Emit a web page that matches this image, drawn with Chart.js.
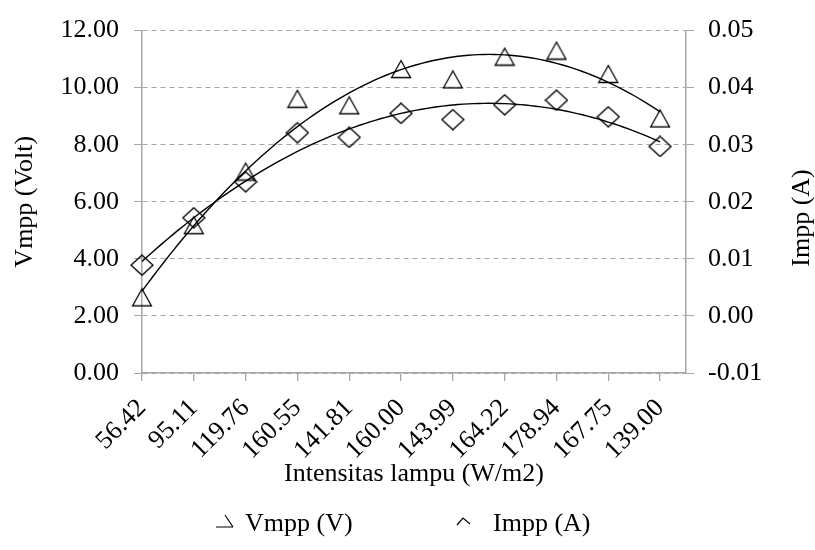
<!DOCTYPE html>
<html>
<head>
<meta charset="utf-8">
<script src="https://cdn.jsdelivr.net/npm/chart.js@4"></script>
<style>
html, body { margin: 0; padding: 0; background: #fff; }
</style>
</head>
<body>
<canvas id="chart" width="815" height="550"></canvas>
<script>
const categories = ["56.42", "95.11", "119.76", "160.55", "141.81", "160.00", "143.99", "164.22", "178.94", "167.75", "139.00"];
const vmpp = [2.65, 5.18, 7.06, 9.61, 9.38, 10.65, 10.29, 11.09, 11.30, 10.48, 8.92];
const impp = [0.0089, 0.0172, 0.0235, 0.0321, 0.0313, 0.0355, 0.0344, 0.0370, 0.0378, 0.0349, 0.0297];
const vTicks = { min: 0, max: 12, step: 2 };
const iTicks = { min: -0.01, max: 0.05, step: 0.01 };

const grey = "#a6a6a6";
const fontFamily = "'Liberation Serif', 'Times New Roman', serif";
Chart.defaults.font.family = fontFamily;
Chart.defaults.font.size = 26;
Chart.defaults.color = "#000";

// second order least squares trendline, like the spreadsheet one
function quadFit(ys) {
    const s = [0, 0, 0, 0, 0];
    const t = [0, 0, 0];
    ys.forEach((y, x) => {
        for (let k = 0; k < 5; k++) s[k] += Math.pow(x, k);
        for (let k = 0; k < 3; k++) t[k] += y * Math.pow(x, k);
    });
    const det = (m) =>
        m[0][0] * (m[1][1] * m[2][2] - m[1][2] * m[2][1]) -
        m[0][1] * (m[1][0] * m[2][2] - m[1][2] * m[2][0]) +
        m[0][2] * (m[1][0] * m[2][1] - m[1][1] * m[2][0]);
    const A = [[s[0], s[1], s[2]], [s[1], s[2], s[3]], [s[2], s[3], s[4]]];
    const D = det(A);
    const coef = [0, 1, 2].map((c) => det(A.map((row, r) => row.map((v, j) => (j === c ? t[r] : v)))) / D);
    const pts = [];
    for (let x = 0; x <= ys.length - 1 + 1e-9; x += 0.1) {
        pts.push({ x, y: coef[0] + coef[1] * x + coef[2] * x * x });
    }
    return pts;
}

function markerCanvas(w, h, draw) {
    const c = document.createElement("canvas");
    c.width = w;
    c.height = h;
    const g = c.getContext("2d");
    g.strokeStyle = "#000";
    g.lineWidth = 1.3;
    draw(g, w, h);
    return c;
}

const triangle = markerCanvas(22, 20, (g, w, h) => {
    g.beginPath();
    g.moveTo(w / 2, 1.5);
    g.lineTo(w - 1.5, h - 1.5);
    g.lineTo(1.5, h - 1.5);
    g.closePath();
    g.stroke();
});
const diamond = markerCanvas(24, 22, (g, w, h) => {
    g.beginPath();
    g.moveTo(w / 2, 1);
    g.lineTo(w - 1, h / 2);
    g.lineTo(w / 2, h - 1);
    g.lineTo(1, h / 2);
    g.closePath();
    g.stroke();
});

// legend at the bottom and the right axis title (reads bottom to top)
const extrasPlugin = {
    id: "extras",
    afterDraw(chart) {
        const ctx = chart.ctx;
        const y = 524;
        ctx.save();
        ctx.strokeStyle = "#000";
        ctx.lineWidth = 1.2;
        ctx.beginPath();
        ctx.moveTo(216, 527);
        ctx.lineTo(233, 527);
        ctx.moveTo(225, 515);
        ctx.lineTo(233, 527);
        ctx.moveTo(457, 525);
        ctx.lineTo(463, 518);
        ctx.lineTo(470, 524);
        ctx.stroke();
        ctx.fillStyle = "#000";
        ctx.font = "26px " + fontFamily;
        ctx.textBaseline = "middle";
        ctx.fillText("Vmpp (V)", 245, y);
        ctx.fillText("Impp (A)", 493, y);

        ctx.translate(802, 218);
        ctx.rotate(-Math.PI / 2);
        ctx.textAlign = "center";
        ctx.fillText("Impp (A)", 0, 0);
        ctx.restore();
    },
};

const toPoints = (arr) => arr.map((v, i) => ({ x: i, y: v }));

new Chart(document.getElementById("chart"), {
    type: "scatter",
    data: {
        datasets: [
            {
                label: "Vmpp (V)",
                data: toPoints(vmpp),
                yAxisID: "y",
                pointStyle: triangle,
                pointRadius: 10,
                clip: false,
            },
            {
                label: "Vmpp trend",
                data: quadFit(vmpp),
                yAxisID: "y",
                showLine: true,
                borderColor: "#000",
                borderWidth: 1.4,
                pointRadius: 0,
                clip: false,
            },
            {
                label: "Impp (A)",
                data: toPoints(impp),
                yAxisID: "y1",
                pointStyle: diamond,
                pointRadius: 11,
                clip: false,
            },
            {
                label: "Impp trend",
                data: quadFit(impp),
                yAxisID: "y1",
                showLine: true,
                borderColor: "#000",
                borderWidth: 1.4,
                pointRadius: 0,
                clip: false,
            },
        ],
    },
    options: {
        responsive: false,
        animation: false,
        devicePixelRatio: 1,
        layout: { padding: { top: 21, bottom: 50, left: 0, right: 0 } },
        plugins: { legend: { display: false }, tooltip: { enabled: false } },
        scales: {
            x: {
                type: "linear",
                position: "bottom",
                min: 0,
                max: categories.length - 0.5,
                afterFit: (s) => { s.height = 127; },
                ticks: {
                    stepSize: 1,
                    includeBounds: false,
                    autoSkip: false,
                    minRotation: 45,
                    maxRotation: 45,
                    padding: 12,
                    callback: (v) => categories[v] ?? "",
                },
                grid: { drawOnChartArea: false, color: grey, tickLength: 8, lineWidth: 1.3 },
                border: { color: grey, width: 1.5 },
                title: {
                    display: true,
                    text: "Intensitas lampu (W/m2)",
                    padding: { top: 0, bottom: 10 },
                },
            },
            y: {
                position: "left",
                min: vTicks.min,
                max: vTicks.max,
                afterFit: (s) => { s.width = 142; },
                ticks: { stepSize: vTicks.step, padding: 15, callback: (v) => v.toFixed(2) },
                grid: { color: grey, lineWidth: 1, tickLength: 8, tickBorderDash: [] },
                border: { color: grey, width: 1.5, dash: [5, 4] },
                title: { display: true, text: "Vmpp (Volt)", padding: { top: 10, bottom: 0 } },
            },
            y1: {
                position: "right",
                min: iTicks.min,
                max: iTicks.max,
                afterFit: (s) => { s.width = 129; },
                ticks: { stepSize: iTicks.step, padding: 14, callback: (v) => v.toFixed(2) },
                grid: { drawOnChartArea: false, color: grey, lineWidth: 1, tickLength: 8 },
                border: { color: grey, width: 1.5 },
            },
        },
    },
    plugins: [extrasPlugin],
});
</script>
</body>
</html>
